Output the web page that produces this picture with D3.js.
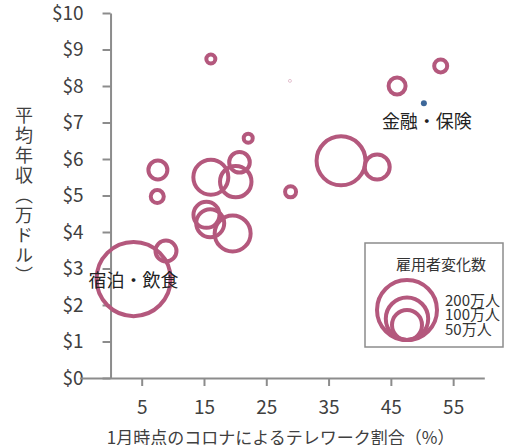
<!DOCTYPE html>
<html><head><meta charset="utf-8">
<script src="https://cdn.jsdelivr.net/npm/d3@7"></script>
<style>
body{margin:0;background:#fff;}
text{font-family:"Noto Sans CJK JP","Noto Sans",sans-serif;}
</style></head>
<body>
<svg id="c" width="505" height="445"></svg>
<script>
// Industries: telework share (%) in January, average income ($10k), change in employees (10k persons)
const telework = [16.1, 28.8, 46.0, 53.0, 22.1, 37.0, 42.8, 28.9, 20.7, 16.1, 20.1, 7.6, 7.5, 15.4, 16.0, 19.6, 8.9, 3.7];
const income   = [8.74, 8.14, 8.00, 8.55, 6.57, 5.95, 5.78, 5.10, 5.91, 5.50, 5.38, 5.70, 4.97, 4.47, 4.24, 3.96, 3.48, 2.71];
const change   = [4.5, 0.5, 16, 9.4, 4.5, 133, 35, 6.7, 23.6, 68, 55, 20, 9.4, 37.6, 43.6, 72, 24.5, 305];
const labels   = ["", "", "", "", "", "", "", "", "", "", "", "", "", "", "", "", "", "宿泊・飲食"];
// Finance & insurance (drawn as filled point)
const finTelework = [50.3];
const finIncome = [7.53];
const finChange = [2];
const finLabels = ["金融・保険"];

const xTicks = [5, 15, 25, 35, 45, 55];
const yTicks = [0, 1, 2, 3, 4, 5, 6, 7, 8, 9, 10];
const legendValues = [200, 100, 50];
const legendLabels = ["200万人", "100万人", "50万人"];

const svg = d3.select("#c");
const x = d3.scaleLinear().domain([-5, 60]).range([79.4, 484.3]);
const y = d3.scaleLinear().domain([0, 10]).range([378, 13]);
const r = d3.scaleSqrt().domain([0, 200]).range([0, 30]);
const pink = "#b4587d";
const axisColor = "#8c8c8c";

// axes
const ya = svg.append("g").attr("transform", `translate(${x(0)},0)`)
  .call(d3.axisLeft(y).tickValues(yTicks).tickSize(8).tickSizeOuter(0).tickPadding(19).tickFormat(d => "$" + d));
const xa = svg.append("g").attr("transform", `translate(0,${y(0)})`)
  .call(d3.axisBottom(x).tickValues(xTicks).tickSize(8).tickSizeOuter(0).tickPadding(15));
[ya, xa].forEach(g => {
  g.select(".domain").attr("stroke", axisColor).attr("stroke-width", 2);
  g.selectAll(".tick line").attr("stroke", axisColor).attr("stroke-width", 2);
  g.selectAll(".tick text").attr("fill", "#404040").style("font-size", "19px");
});

// axis titles
svg.append("text").attr("x", x(27.3)).attr("y", 436).attr("text-anchor", "middle")
  .attr("dominant-baseline", "central").attr("fill", "#404040").style("font-size", "17px")
  .text("1月時点のコロナによるテレワーク割合（%）");
svg.append("text").attr("x", 24).attr("y", 106)
  .style("writing-mode", "vertical-rl").style("font-size", "18px").style("letter-spacing", "2px")
  .attr("fill", "#404040").text("平均年収（万ドル）");

// bubbles
const data = telework.map((t, i) => ({t, inc: income[i], c: change[i], label: labels[i]}));
data.sort((a, b) => b.c - a.c);
svg.append("g").selectAll("circle").data(data).join("circle")
  .attr("cx", d => x(d.t)).attr("cy", d => y(d.inc)).attr("r", d => r(d.c))
  .attr("fill", "none").attr("stroke", pink)
  .attr("stroke-width", d => r(d.c) < 3 ? 1 : 4)
  .attr("stroke-opacity", d => r(d.c) < 3 ? 0.35 : 1);
svg.append("g").selectAll("text").data(data.filter(d => d.label)).join("text")
  .attr("x", d => x(d.t)).attr("y", d => y(d.inc)).attr("text-anchor", "middle")
  .attr("dominant-baseline", "central").attr("fill", "#222").style("font-size", "18px")
  .text(d => d.label);

// finance point
const fin = finTelework.map((t, i) => ({t, inc: finIncome[i], c: finChange[i], label: finLabels[i]}));
svg.append("g").selectAll("circle").data(fin).join("circle")
  .attr("cx", d => x(d.t)).attr("cy", d => y(d.inc)).attr("r", d => r(d.c))
  .attr("fill", "#3d6799");
svg.append("g").selectAll("text").data(fin).join("text")
  .attr("x", d => x(d.t) + 3).attr("y", d => y(d.inc) + 17).attr("text-anchor", "middle")
  .attr("dominant-baseline", "central").attr("fill", "#222").style("font-size", "18px")
  .text(d => d.label);

// legend
const lg = svg.append("g");
lg.append("rect").attr("x", 365).attr("y", 243).attr("width", 138).attr("height", 104)
  .attr("fill", "#fff").attr("stroke", axisColor).attr("stroke-width", 1.5);
lg.append("text").attr("x", 441).attr("y", 263).attr("text-anchor", "middle")
  .attr("dominant-baseline", "central").attr("fill", "#333").style("font-size", "15px").text("雇用者変化数");
const lb = 340;
lg.selectAll("circle").data(legendValues).join("circle")
  .attr("cx", 407).attr("cy", d => lb - r(d)).attr("r", d => r(d))
  .attr("fill", "none").attr("stroke", pink).attr("stroke-width", 4);
lg.selectAll("text.l").data(legendLabels).join("text").attr("class", "l")
  .attr("x", 445).attr("y", (d, i) => 299 + i * 14.5).attr("dominant-baseline", "central")
  .attr("fill", "#333").style("font-size", "15px").text(d => d);
</script>
</body></html>
